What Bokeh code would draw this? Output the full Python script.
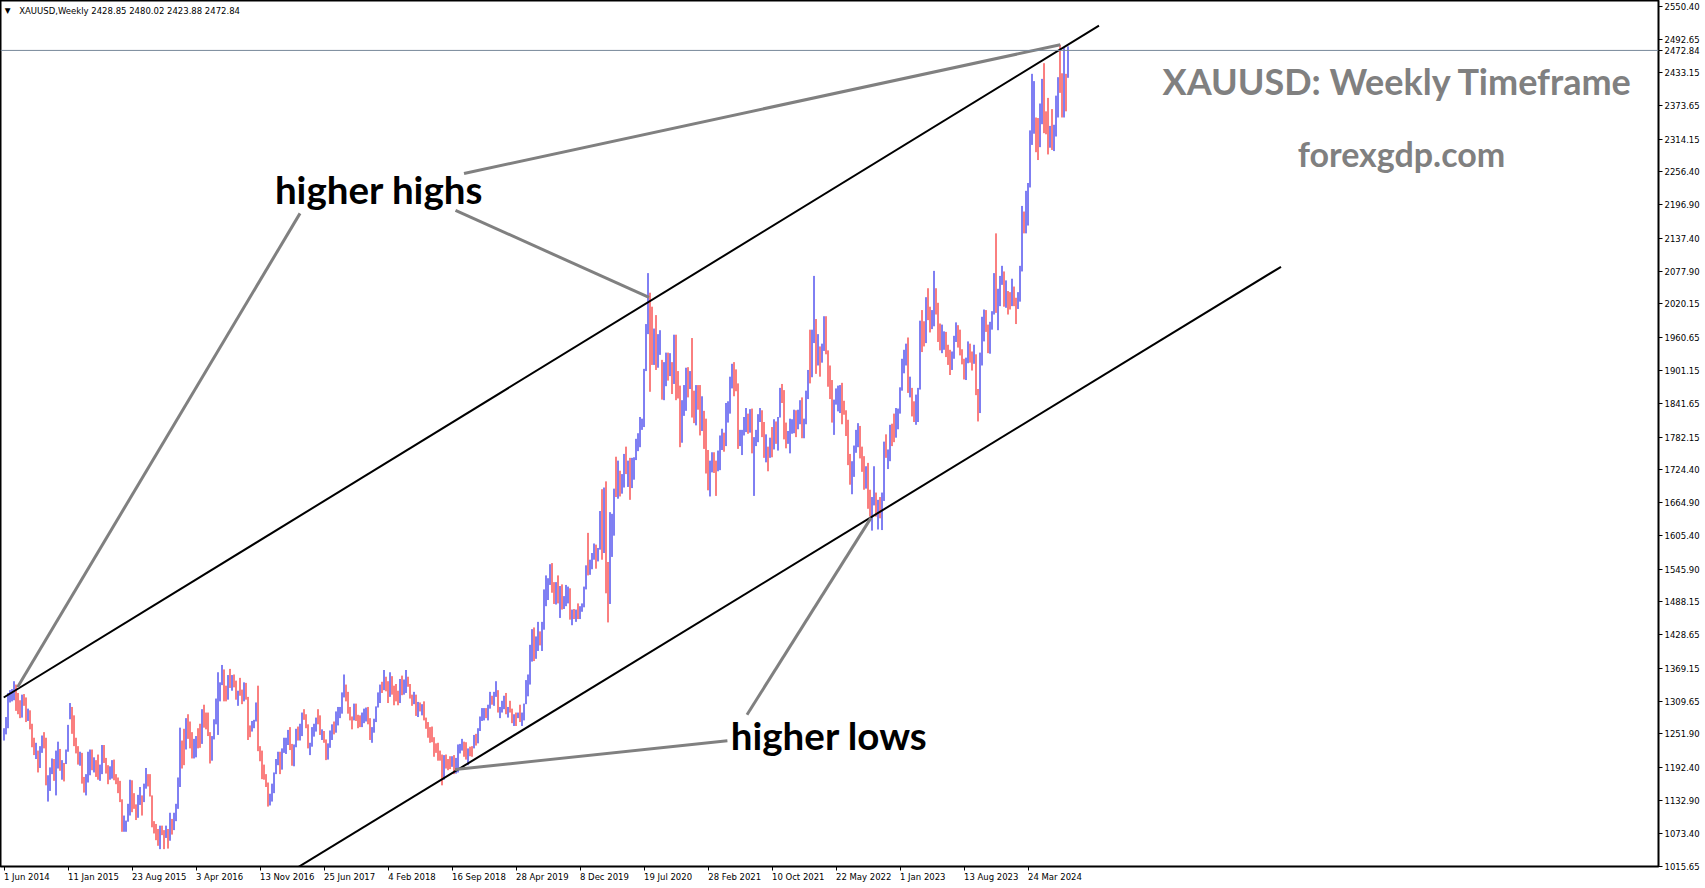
from bokeh.plotting import figure
from bokeh.models import Range1d, FixedTicker, Label, Span, PrintfTickFormatter, ColumnDataSource
from bokeh.embed import file_html
from bokeh.resources import INLINE

# ---------------- DATA (weekly XAUUSD high / low, direction U=up bar, D=down bar) ----------------
high_2014 = [1262, 1282, 1325, 1330, 1332, 1346, 1340, 1325, 1312, 1322,
             1323, 1317, 1297, 1294, 1270, 1245, 1236, 1222, 1230, 1249,
             1255, 1245, 1178, 1192, 1208, 1207, 1222, 1238, 1225, 1205,
             1200]
low_2014 = [1240, 1251, 1262, 1308, 1310, 1312, 1293, 1287, 1280, 1281,
            1302, 1273, 1275, 1260, 1228, 1214, 1207, 1183, 1191, 1218,
            1226, 1160, 1131, 1150, 1180, 1168, 1142, 1190, 1186, 1170,
            1167]
dir_2014 = "UUUUU" "UDDDU" "DDUDD" "DUDUU" "DDUUU" "DUUDU" "D"

high_2015 = [1224, 1268, 1307, 1300, 1285, 1245, 1230, 1220, 1218, 1175,
             1180, 1220, 1224, 1224, 1210, 1205, 1215, 1197, 1232, 1232,
             1209, 1196, 1194, 1205, 1206, 1180, 1174, 1168, 1135, 1106,
             1097, 1127, 1170, 1169, 1146, 1126, 1143, 1157, 1142, 1163,
             1191, 1180, 1180, 1142, 1096, 1091, 1082, 1088, 1088, 1080,
             1088, 1082]
low_2015 = [1198, 1220, 1278, 1252, 1230, 1217, 1197, 1195, 1163, 1147,
            1142, 1165, 1178, 1187, 1183, 1175, 1170, 1168, 1180, 1200,
            1181, 1162, 1170, 1172, 1169, 1162, 1146, 1130, 1077, 1077,
            1077, 1095, 1106, 1112, 1118, 1098, 1102, 1125, 1106, 1130,
            1154, 1158, 1140, 1085, 1074, 1062, 1052, 1046, 1071, 1046,
            1066, 1047]
dir_2015 = "UUUDDDDUDD" "UUUDUDDUUD" "DDUUDDDDDU" "UUUDDDUUDU" "UDDDDDDUDD" "UD"

high_2016 = [1111, 1100, 1111, 1127, 1174, 1263, 1240, 1261, 1280, 1287,
             1274, 1255, 1243, 1248, 1262, 1270, 1296, 1304, 1290, 1290,
             1255, 1248, 1278, 1315, 1362, 1344, 1375, 1367, 1338, 1357,
             1368, 1357, 1358, 1347, 1329, 1352, 1331, 1344, 1343, 1318,
             1267, 1275, 1277, 1308, 1338, 1230, 1222, 1197, 1180, 1165,
             1145, 1163]
low_2016 = [1061, 1072, 1080, 1096, 1118, 1157, 1190, 1196, 1224, 1243,
            1226, 1208, 1208, 1210, 1226, 1227, 1234, 1263, 1260, 1248,
            1199, 1204, 1242, 1269, 1250, 1310, 1339, 1310, 1310, 1313,
            1334, 1329, 1335, 1313, 1302, 1320, 1305, 1310, 1313, 1241,
            1246, 1256, 1262, 1274, 1221, 1203, 1171, 1170, 1157, 1122,
            1124, 1131]
dir_2016 = "UDUUUUDDUD" "DDUUDDUDDD" "DUUUUUUDDU" "DUDDUDDUDD" "DUUUDDDDDD" "UU"

high_2017 = [1183, 1207, 1220, 1220, 1226, 1245, 1245, 1259, 1264, 1234,
             1233, 1261, 1265, 1270, 1290, 1296, 1287, 1269, 1236, 1264,
             1270, 1281, 1296, 1285, 1260, 1257, 1242, 1235, 1258, 1269,
             1274, 1292, 1300, 1300, 1326, 1358, 1340, 1327, 1300, 1283,
             1306, 1306, 1286, 1285, 1290, 1297, 1299, 1300, 1280, 1264,
             1279, 1301, 1326]
low_2017 = [1146, 1180, 1196, 1180, 1188, 1218, 1216, 1232, 1223, 1195,
            1194, 1228, 1240, 1240, 1248, 1277, 1262, 1226, 1214, 1229,
            1247, 1256, 1269, 1250, 1241, 1236, 1205, 1206, 1227, 1241,
            1251, 1254, 1267, 1280, 1288, 1317, 1310, 1288, 1276, 1260,
            1276, 1275, 1262, 1264, 1264, 1271, 1274, 1269, 1241, 1236,
            1254, 1273, 1299]
dir_2017 = "UUUDUUUUDD" "UUDUUDDDUU" "UUDDUDDUUU" "DUUUUUDDDD" "UDDDUUUDDU" "UUU"

high_2018 = [1340, 1345, 1366, 1354, 1346, 1362, 1355, 1338, 1341, 1329,
             1350, 1356, 1349, 1366, 1354, 1341, 1322, 1327, 1322, 1309,
             1308, 1305, 1310, 1281, 1273, 1264, 1265, 1246, 1235, 1236,
             1222, 1215, 1214, 1215, 1207, 1212, 1212, 1214, 1209, 1233,
             1234, 1243, 1238, 1237, 1226, 1229, 1230, 1250, 1252, 1262,
             1283, 1298]
low_2018 = [1307, 1325, 1330, 1328, 1307, 1318, 1322, 1303, 1310, 1303,
            1307, 1321, 1322, 1325, 1336, 1315, 1302, 1305, 1284, 1282,
            1292, 1285, 1276, 1261, 1245, 1236, 1237, 1211, 1218, 1204,
            1204, 1160, 1170, 1190, 1187, 1189, 1193, 1180, 1181, 1183,
            1217, 1222, 1211, 1206, 1196, 1212, 1211, 1226, 1231, 1235,
            1257, 1275]
dir_2018 = "UDUDDUDDDD" "UDUUDDDUDU" "DUDDDDDDDD" "DDUDDDUDUU" "UUDDUDDUDU" "UU"

high_2019 = [1298, 1298, 1304, 1327, 1320, 1327, 1346, 1330, 1300, 1311,
             1320, 1325, 1300, 1311, 1297, 1287, 1290, 1290, 1304, 1290,
             1306, 1348, 1358, 1411, 1439, 1442, 1426, 1452, 1435, 1452,
             1510, 1535, 1530, 1555, 1557, 1523, 1523, 1535, 1516, 1519,
             1498, 1518, 1515, 1512, 1474, 1475, 1474, 1485, 1480, 1485,
             1515, 1553]
low_2019 = [1276, 1280, 1276, 1297, 1304, 1302, 1318, 1290, 1280, 1290,
            1296, 1287, 1281, 1290, 1271, 1266, 1266, 1280, 1273, 1266,
            1276, 1305, 1319, 1340, 1381, 1382, 1386, 1400, 1410, 1400,
            1438, 1480, 1491, 1518, 1504, 1484, 1483, 1485, 1459, 1474,
            1475, 1480, 1485, 1456, 1446, 1457, 1452, 1457, 1457, 1470,
            1478, 1510]
dir_2019 = "UDUUDUUDUU" "UDUDDUDUDU" "UUUUUDUUDU" "UUUUDDUDUD" "UUUDUDUDUU" "UU"

high_2020 = [1611, 1563, 1575, 1592, 1590, 1584, 1650, 1689, 1692, 1703,
             1559, 1648, 1645, 1690, 1747, 1740, 1722, 1716, 1752, 1765,
             1740, 1745, 1745, 1746, 1779, 1789, 1818, 1815, 1904, 1984,
             2075, 2040, 2015, 1976, 2000, 1966, 1973, 1920, 1916, 1933,
             1933, 1932, 1916, 1965, 1965, 1900, 1874, 1848, 1875, 1906,
             1907, 1900]
low_2020 = [1535, 1536, 1546, 1563, 1547, 1560, 1581, 1563, 1575, 1503,
            1451, 1484, 1568, 1606, 1675, 1672, 1676, 1681, 1692, 1716,
            1693, 1670, 1691, 1706, 1741, 1757, 1764, 1795, 1800, 1900,
            1966, 1863, 1911, 1911, 1902, 1906, 1929, 1849, 1848, 1873,
            1883, 1891, 1859, 1877, 1848, 1851, 1764, 1772, 1820, 1829,
            1853, 1868]
dir_2020 = "DUUUDUUDUD" "DUUUDUDUUD" "UDUUUUUUUU" "UDDUDUUDUU" "DUDUDDDUUU" "DU"

high_2021 = [1959, 1865, 1875, 1875, 1875, 1855, 1829, 1815, 1759, 1740,
             1755, 1755, 1740, 1758, 1785, 1797, 1790, 1843, 1846, 1890,
             1913, 1916, 1903, 1878, 1795, 1795, 1818, 1834, 1824, 1832,
             1833, 1782, 1795, 1823, 1834, 1830, 1809, 1787, 1765, 1781,
             1800, 1814, 1810, 1818, 1870, 1877, 1866, 1808, 1793, 1815,
             1814, 1831]
low_2021 = [1817, 1807, 1803, 1831, 1785, 1793, 1761, 1717, 1687, 1676,
            1719, 1718, 1677, 1721, 1723, 1759, 1756, 1766, 1808, 1824,
            1869, 1855, 1864, 1761, 1766, 1750, 1785, 1791, 1788, 1790,
            1753, 1677, 1766, 1773, 1809, 1782, 1745, 1737, 1721, 1745,
            1746, 1760, 1770, 1758, 1817, 1843, 1778, 1762, 1770, 1753,
            1788, 1789]
dir_2021 = "DDUDDUDDDU" "UDDUUUDUUU" "UDDDUUUUDU" "DUUUUDDUDU" "DUDUUDDDUU" "UU"

high_2022 = [1830, 1831, 1848, 1853, 1815, 1865, 1902, 1974, 1974, 2070,
             1993, 1966, 1944, 1949, 1998, 1998, 1937, 1910, 1884, 1849,
             1869, 1874, 1875, 1879, 1847, 1830, 1813, 1752, 1739, 1767,
             1795, 1807, 1802, 1765, 1748, 1730, 1736, 1688, 1675, 1730,
             1683, 1670, 1675, 1683, 1774, 1787, 1760, 1804, 1806, 1824,
             1834, 1833]
low_2022 = [1782, 1796, 1805, 1780, 1780, 1805, 1850, 1878, 1889, 1950,
            1895, 1910, 1890, 1915, 1936, 1930, 1872, 1850, 1808, 1786,
            1840, 1828, 1825, 1805, 1822, 1784, 1732, 1697, 1680, 1711,
            1754, 1764, 1744, 1720, 1688, 1690, 1654, 1640, 1615, 1660,
            1640, 1617, 1637, 1616, 1668, 1745, 1725, 1739, 1766, 1773,
            1781, 1796]
dir_2022 = "DUUDUUUDUU" "DUDUUDDDDU" "UUUDDDDDUU" "UUDDDUDDUU" "DUDUUDUUDD" "UU"

high_2023 = [1871, 1922, 1938, 1949, 1960, 1890, 1870, 1846, 1858, 1870,
             1990, 2009, 1989, 2032, 2048, 2015, 2009, 2079, 2048, 2022,
             1985, 1983, 1971, 1970, 1947, 1938, 1935, 1963, 1987, 1982,
             1974, 1939, 1922, 1924, 1953, 1949, 1935, 1947, 1930, 1868,
             1933, 1997, 2010, 2009, 1983, 1988, 2007, 2075, 2146, 2047,
             2070, 2088, 2078]
low_2023 = [1824, 1865, 1896, 1910, 1861, 1853, 1819, 1809, 1804, 1809,
            1867, 1934, 1944, 1950, 1991, 1969, 1975, 1980, 2001, 1952,
            1937, 1932, 1938, 1925, 1911, 1893, 1902, 1922, 1952, 1942,
            1928, 1912, 1885, 1884, 1914, 1915, 1901, 1913, 1857, 1810,
            1825, 1910, 1953, 1970, 1932, 1931, 1974, 2001, 2004, 1973,
            2016, 2054, 2015]
dir_2023 = "UUUUDUDDUU" "UDDUDDUUDD" "DUUDDDUUUD" "DDDUUDDUDD" "UUUDDUUUDU" "UUD"

high_2024 = [2062, 2043, 2041, 2065, 2051, 2031, 2041, 2088, 2195, 2185,
             2222, 2236, 2330, 2431, 2418, 2353, 2352, 2378, 2422, 2450,
             2364, 2388, 2338, 2368, 2340, 2392, 2425, 2483, 2432, 2477,
             2431, 2480.02]
low_2024 = [2013, 2001, 2010, 2016, 2016, 1984, 2011, 2024, 2078, 2146,
            2146, 2160, 2228, 2304, 2324, 2291, 2277, 2300, 2341, 2325,
            2323, 2287, 2299, 2295, 2293, 2319, 2353, 2397, 2353, 2353,
            2364, 2423.88]
dir_2024 = "UDDUDDUUUD" "UUUUUDDUUD" "DDUDUUUDDU" "DU"

price_ticks = [2550.40, 2492.65, 2433.15, 2373.65, 2314.15, 2256.40, 2196.90, 2137.40,
               2077.90, 2020.15, 1960.65, 1901.15, 1841.65, 1782.15, 1724.40, 1664.90,
               1605.40, 1545.90, 1488.15, 1428.65, 1369.15, 1309.65, 1251.90, 1192.40,
               1132.90, 1073.40, 1015.65]
date_labels = ["1 Jun 2014", "11 Jan 2015", "23 Aug 2015", "3 Apr 2016", "13 Nov 2016",
               "25 Jun 2017", "4 Feb 2018", "16 Sep 2018", "28 Apr 2019", "8 Dec 2019",
               "19 Jul 2020", "28 Feb 2021", "10 Oct 2021", "22 May 2022", "1 Jan 2023",
               "13 Aug 2023", "24 Mar 2024"]
date_bar_index = [0, 32, 64, 96, 128, 160, 192, 224, 256, 288, 320, 352, 384, 416, 448, 480, 512]

header_marker = "\u25BC"
header_text = "XAUUSD,Weekly  2428.85 2480.02 2423.88 2472.84"
last_close = 2472.84

# drawn trend lines (bar index, price)
upper_channel_x = [-0.15, 547.5]
upper_channel_y = [1316.9, 2517.0]
lower_channel_x = [123.5, 638.5]
lower_channel_y = [962.4, 2086.3]
hh_pointer1_x = [148.0, 6.75]
hh_pointer1_y = [2181.7, 1335.3]
hh_pointer2_x = [225.75, 322.5]
hh_pointer2_y = [2187.1, 2031.7]
hh_pointer3_x = [230.0, 528.15]
hh_pointer3_y = [2253.1, 2482.9]
hl_pointer1_x = [371.5, 433.5]
hl_pointer1_y = [1286.2, 1637.8]
hl_pointer2_x = [361.7, 225.55]
hl_pointer2_y = [1239.8, 1188.3]

# ---------------- BUILD ----------------
highs = high_2014 + high_2015 + high_2016 + high_2017 + high_2018 + high_2019 + \
    high_2020 + high_2021 + high_2022 + high_2023 + high_2024
lows = low_2014 + low_2015 + low_2016 + low_2017 + low_2018 + low_2019 + \
    low_2020 + low_2021 + low_2022 + low_2023 + low_2024
dirs = dir_2014 + dir_2015 + dir_2016 + dir_2017 + dir_2018 + dir_2019 + \
    dir_2020 + dir_2021 + dir_2022 + dir_2023 + dir_2024
n = min(len(highs), len(lows), len(dirs))
BLUE = "#0000e6"
RED = "#f50000"
src = ColumnDataSource(dict(
    i=list(range(n)), hi=highs[:n], lo=lows[:n],
    c=[BLUE if d == "U" else RED for d in dirs[:n]],
))

W, H = 1705, 888
MB_R, MB_B = 47, 22
frame_w = W - MB_R
frame_h = H - MB_B
PX_PER_BAR = 2.0
X0 = -1.75          # puts each 1px bar on a pixel centre
X1 = X0 + frame_w / PX_PER_BAR
Y0, Y1 = 1015.0, 2562.0
ppx = (Y1 - Y0) / frame_h  # price per pixel

p = figure(width=W, height=H, x_range=Range1d(X0, X1), y_range=Range1d(Y0, Y1),
           output_backend="svg", toolbar_location=None, y_axis_location="right",
           min_border_left=0, min_border_top=0, min_border_right=MB_R,
           min_border_bottom=MB_B, background_fill_color="white",
           border_fill_color="white")
p.grid.visible = False
p.outline_line_color = "black"
p.outline_line_width = 2

AX_FONT = "DejaVu Sans"
AX_SIZE_PX = 8.5
AX_SIZE = "8.5px"

# y axis (right)
p.yaxis.ticker = FixedTicker(ticks=price_ticks + [last_close])
p.yaxis.formatter = PrintfTickFormatter(format="%.2f")
p.yaxis.major_label_text_font = AX_FONT
p.yaxis.major_label_text_font_size = AX_SIZE
p.yaxis.major_label_text_color = "black"
p.yaxis.major_tick_in = 0
p.yaxis.major_tick_out = 4
p.yaxis.minor_tick_line_color = None
p.yaxis.major_label_standoff = 2
p.yaxis.axis_line_color = "black"

# x axis: tick marks at the bars, labels left-aligned right after each tick mark
DJV = {"0": .636, "1": .636, "2": .636, "3": .636, "4": .636, "5": .636, "6": .636,
       "7": .636, "8": .636, "9": .636, " ": .318, "A": .684, "D": .770, "F": .575,
       "J": .295, "M": .863, "N": .748, "O": .787, "S": .635, "a": .613, "b": .635,
       "c": .550, "e": .615, "g": .635, "l": .278, "n": .634, "o": .612, "p": .635,
       "r": .411, "t": .392, "u": .634, "v": .592, "y": .592}


def text_w(s):
    return sum(DJV.get(ch, 0.6) for ch in s) * AX_SIZE_PX


label_centers = [round(t + (0.0 + text_w(lab) / 2) / PX_PER_BAR, 4)
                 for t, lab in zip(date_bar_index, date_labels)]
p.xaxis.ticker = FixedTicker(ticks=label_centers, minor_ticks=date_bar_index)
p.xaxis.major_label_overrides = {c: lab for c, lab in zip(label_centers, date_labels)}
p.xaxis.major_label_text_font = AX_FONT
p.xaxis.major_label_text_font_size = AX_SIZE
p.xaxis.major_label_text_color = "black"
p.xaxis.major_tick_line_color = None
p.xaxis.major_tick_in = 0
p.xaxis.major_tick_out = 4
p.xaxis.minor_tick_line_color = "black"
p.xaxis.minor_tick_in = 0
p.xaxis.minor_tick_out = 4
p.xaxis.major_label_standoff = 1
p.xaxis.axis_line_color = "black"

# current price line
p.add_layout(Span(location=last_close, dimension="width", line_color="#778899", line_width=1))

# bars
p.segment(x0="i", y0="lo", x1="i", y1="hi", color="c", line_width=1, source=src)

# channel lines
p.line(upper_channel_x, upper_channel_y, line_color="black", line_width=2)
p.line(lower_channel_x, lower_channel_y, line_color="black", line_width=2)

GRAY = "#808080"
for xs, ys in [(hh_pointer1_x, hh_pointer1_y), (hh_pointer2_x, hh_pointer2_y),
               (hh_pointer3_x, hh_pointer3_y), (hl_pointer1_x, hl_pointer1_y),
               (hl_pointer2_x, hl_pointer2_y)]:
    p.line(xs, ys, line_color=GRAY, line_width=3)

# texts
TXT_FONT = "Lato"
p.add_layout(Label(x=135.45, y=2224.9, text="higher highs", text_font=TXT_FONT,
                   text_font_style="bold", text_font_size="38.5px", text_color="black",
                   text_baseline="middle", text_align="left"))
p.add_layout(Label(x=363.4, y=1250.7, text="higher lows", text_font=TXT_FONT,
                   text_font_style="bold", text_font_size="38.5px", text_color="black",
                   text_baseline="middle", text_align="left"))
p.add_layout(Label(x=696.9, y=2417.9, text="XAUUSD: Weekly Timeframe", text_font=TXT_FONT,
                   text_font_style="bold", text_font_size="36px", text_color=GRAY,
                   text_baseline="middle", text_align="center"))
p.add_layout(Label(x=698.75, y=2289.1, text="forexgdp.com", text_font=TXT_FONT,
                   text_font_style="bold", text_font_size="34px", text_color=GRAY,
                   text_baseline="middle", text_align="center"))

# header
p.add_layout(Label(x=0.4, y=Y1 - 10 * ppx, text=header_marker, text_font=AX_FONT,
                   text_font_size="7.5px", text_color="black", text_baseline="middle",
                   text_align="left"))
p.add_layout(Label(x=7.6, y=Y1 - 10 * ppx, text=header_text, text_font=AX_FONT,
                   text_font_size=AX_SIZE, text_color="black", text_baseline="middle",
                   text_align="left"))

open("out.html", "w").write(file_html(p, INLINE))
